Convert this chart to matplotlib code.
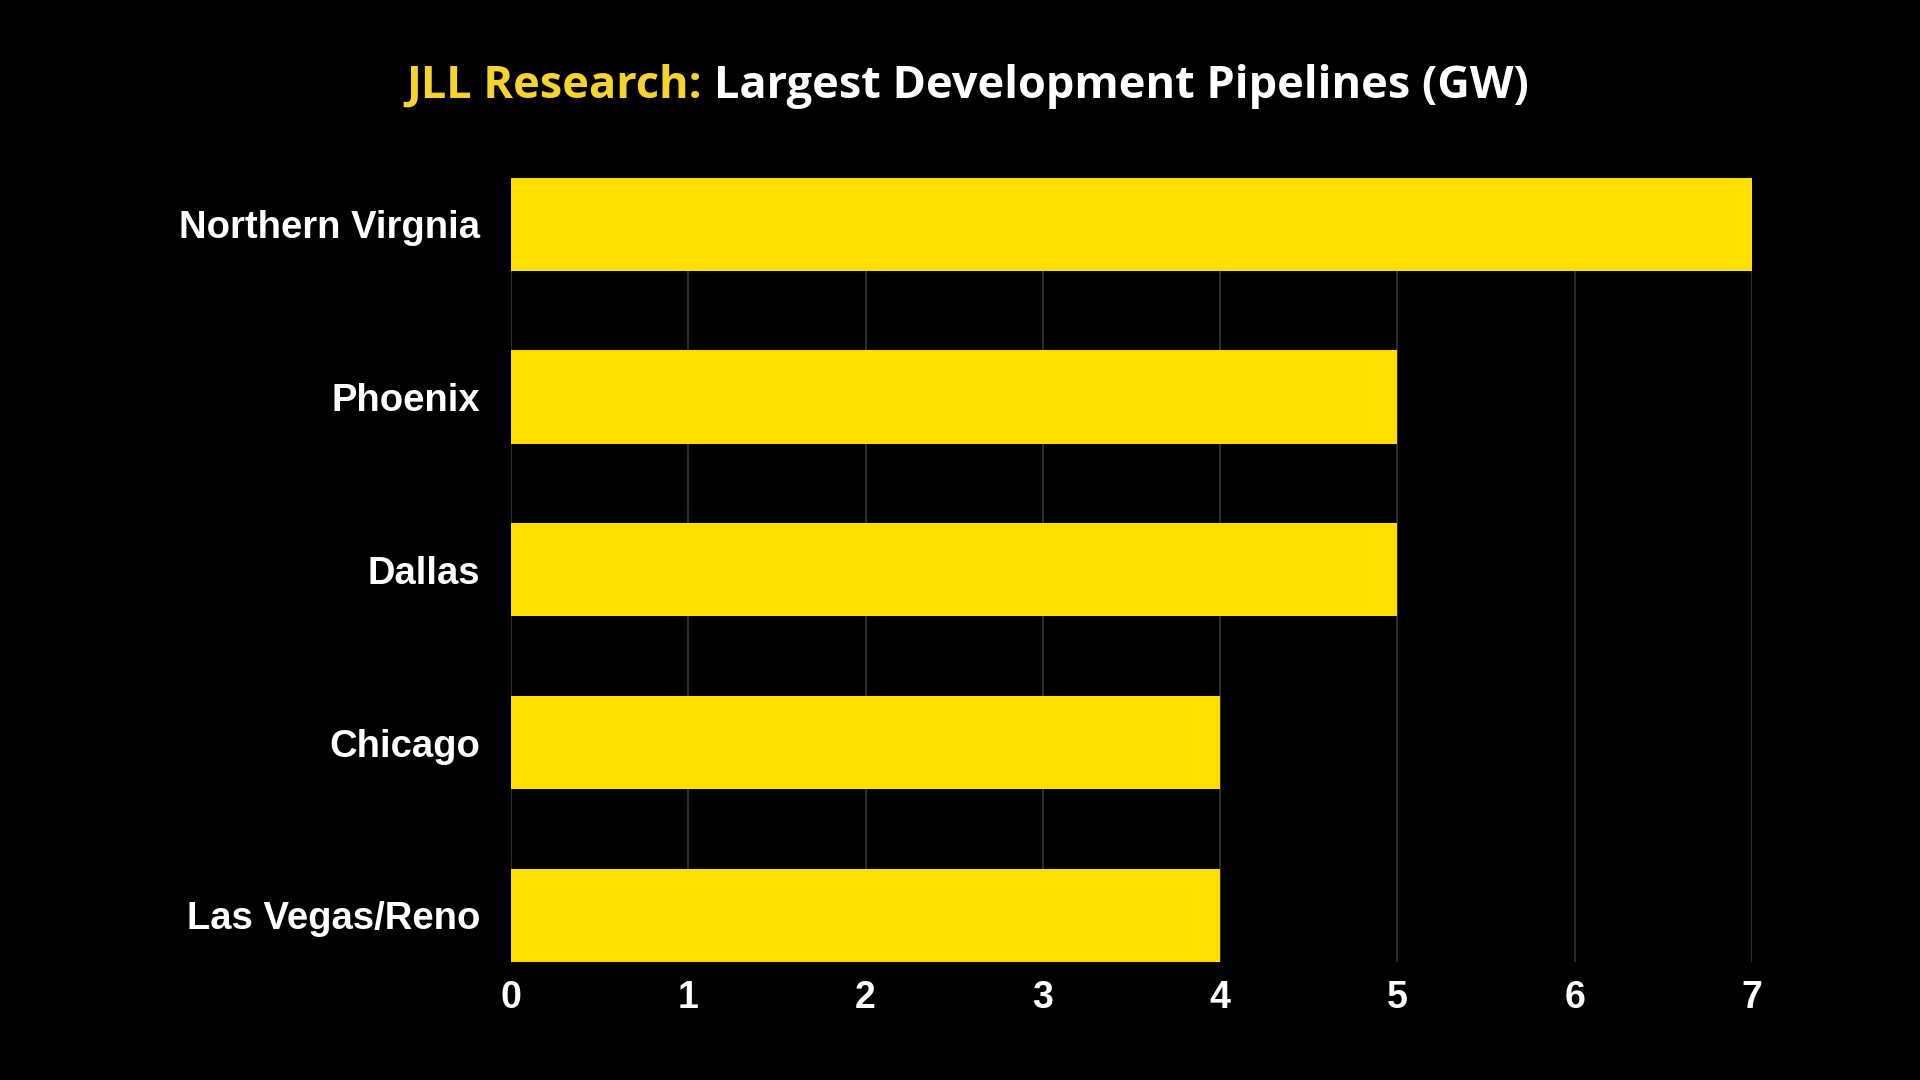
import matplotlib.pyplot as plt

cities = ["Northern Virgnia", "Phoenix", "Dallas", "Chicago", "Las Vegas/Reno"]
pipeline_gw = [7, 5, 5, 4, 4]
x_ticks = [0, 1, 2, 3, 4, 5, 6, 7]

bg = "#000000"
bar_color = "#FFDE00"
title_yellow = "#F7D32E"

fig = plt.figure(figsize=(19.2, 10.8), dpi=100, facecolor=bg)
ax = fig.add_axes([0.2661, 0.1093, 0.9125 - 0.2661, 0.8356 - 0.1093], facecolor=bg)

ypos = list(range(len(cities)))
ax.barh(ypos, pipeline_gw, height=0.54, color=bar_color, zorder=3)

ax.set_xlim(0, 7)
ax.set_ylim(len(cities) - 1 + 0.27, -0.27)
ax.set_xticks(x_ticks)
ax.set_xticklabels([str(t) for t in x_ticks])
ax.set_yticks(ypos)
ax.set_yticklabels(cities)

ax.grid(axis="x", color="#363636", linewidth=1.2, zorder=0)
for s in ax.spines.values():
    s.set_visible(False)
ax.tick_params(axis="both", length=0, colors="white")
ax.tick_params(axis="x", pad=13)
ax.tick_params(axis="y", pad=22)
for lab in ax.get_xticklabels():
    lab.set_fontfamily("Liberation Sans")
    lab.set_fontweight("bold")
    lab.set_fontsize(27)
for lab in ax.get_yticklabels():
    lab.set_fontfamily("Liberation Sans")
    lab.set_fontweight("bold")
    lab.set_fontsize(27.5)

# two-colour title, centred as one line
part1 = "JLL Research: "
part2 = "Largest Development Pipelines (GW)"
tkw = dict(fontfamily="Open Sans", fontweight="bold", fontsize=32.5, va="baseline")
renderer = fig.canvas.get_renderer()
t1 = fig.text(0, 0, part1, color=title_yellow, **tkw)
t2 = fig.text(0, 0, part2, color="white", **tkw)
w1 = t1.get_window_extent(renderer).width / fig.bbox.width
w2 = t2.get_window_extent(renderer).width / fig.bbox.width
x0 = 0.504 - (w1 + w2) / 2
ybase = 1 - 98 / 1080
t1.set_position((x0, ybase))
t2.set_position((x0 + w1, ybase))

fig.savefig("out.png", dpi=100, facecolor=bg)
